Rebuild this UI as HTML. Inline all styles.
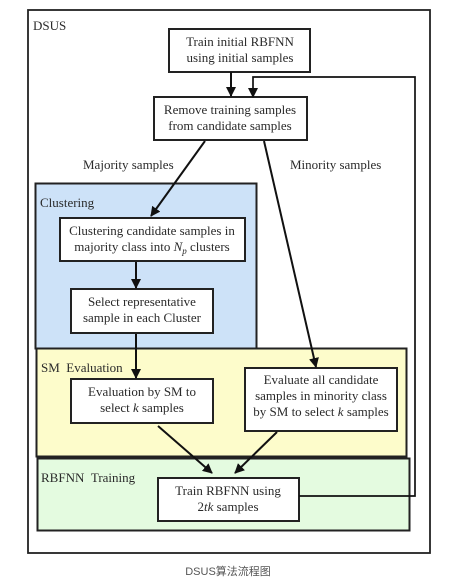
<!DOCTYPE html>
<html><head><meta charset="utf-8"><style>
html,body{margin:0;padding:0;background:#fff;width:453px;height:582px;overflow:hidden}
svg text{font-family:"Liberation Serif",serif;font-size:13px;fill:#2a2a2a}
</style></head><body>
<svg width="453" height="582" viewBox="0 0 453 582" xmlns="http://www.w3.org/2000/svg">
<defs><marker id="a" markerWidth="10" markerHeight="10" refX="9" refY="5" orient="auto" markerUnits="userSpaceOnUse"><path d="M0,0 L10,5 L0,10 z" fill="#111"/></marker></defs>
<rect x="28" y="10" width="402" height="543" fill="#fff" stroke="#222" stroke-width="1.8"/>
<text x="33" y="30">DSUS</text>
<rect x="35.5" y="183.5" width="221" height="165" fill="#cde2f8" stroke="#222" stroke-width="2"/>
<rect x="36.5" y="348.5" width="370" height="108" fill="#fdfccb" stroke="#222" stroke-width="2"/>
<rect x="37.5" y="458.5" width="372" height="72" fill="#e4fbe0" stroke="#222" stroke-width="2"/>
<text x="40" y="207">Clustering</text>
<text x="41" y="372">SM&#160;&#160;Evaluation</text>
<text x="41" y="482">RBFNN&#160;&#160;Training</text>
<g fill="#fff" stroke="#222" stroke-width="2">
<rect x="169" y="29" width="141" height="43"/>
<rect x="154" y="97" width="153" height="43"/>
<rect x="60" y="218" width="185" height="43"/>
<rect x="71" y="289" width="142" height="44"/>
<rect x="71" y="379" width="142" height="44"/>
<rect x="245" y="368" width="152" height="63"/>
<rect x="158" y="478" width="141" height="43"/>
</g>
<g text-anchor="middle">
<text x="240" y="46">Train initial RBFNN</text><text x="240" y="62">using initial samples</text>
<text x="230" y="114">Remove training samples</text><text x="230" y="130">from candidate samples</text>
<text x="152" y="235">Clustering candidate samples in</text><text x="152" y="251">majority class into <tspan font-style="italic">N</tspan><tspan font-style="italic" font-size="9" dy="3">p</tspan><tspan dy="-3"> clusters</tspan></text>
<text x="142" y="306">Select representative</text><text x="142" y="322">sample in each Cluster</text>
<text x="142" y="396">Evaluation by SM to</text><text x="142" y="412">select <tspan font-style="italic">k</tspan> samples</text>
<text x="321" y="384">Evaluate all candidate</text><text x="321" y="400">samples in minority class</text><text x="321" y="416">by SM to select <tspan font-style="italic">k</tspan> samples</text>
<text x="228" y="495">Train RBFNN using</text><text x="228" y="511">2<tspan font-style="italic">tk</tspan> samples</text>
</g>
<text x="83" y="169">Majority samples</text>
<text x="290" y="169">Minority samples</text>
<g stroke="#111" stroke-width="2" fill="none">
<line x1="231" y1="72" x2="231" y2="96" marker-end="url(#a)"/>
<polyline points="299,496 415,496 415,77 253,77 253,97" stroke-width="1.7" marker-end="url(#a)"/>
<line x1="205" y1="141" x2="151" y2="216" marker-end="url(#a)"/>
<line x1="264" y1="141" x2="316" y2="367" marker-end="url(#a)"/>
<line x1="136" y1="262" x2="136" y2="288" marker-end="url(#a)"/>
<line x1="136" y1="334" x2="136" y2="378" marker-end="url(#a)"/>
<line x1="158" y1="426" x2="212" y2="473" marker-end="url(#a)"/>
<line x1="277" y1="432" x2="235" y2="473" marker-end="url(#a)"/>
</g>
<text x="228" y="575" text-anchor="middle" style="font-family:'Liberation Sans','Noto Sans CJK SC',sans-serif;font-size:11px;fill:#555">DSUS算法流程图</text>
</svg>
</body></html>
